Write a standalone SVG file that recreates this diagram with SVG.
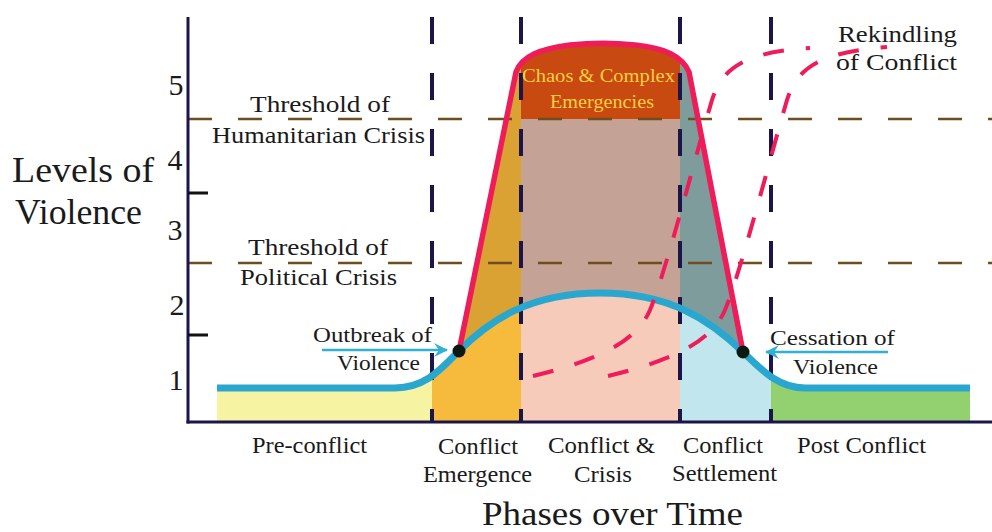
<svg xmlns="http://www.w3.org/2000/svg" width="992" height="532" viewBox="0 0 992 532">
<style>
text{font-family:"Liberation Serif","Times New Roman",serif;fill:#1a1a1a}
.lbl{font-size:24px}
.ph{font-size:23px}
.num{font-size:30px;text-anchor:middle}
.chaos{font-size:19px;fill:#f7cf45}
.vd{stroke:#1b1548;stroke-width:4;stroke-dasharray:27 29;fill:none}
.th{stroke:#6e4e1e;stroke-width:2.5;stroke-dasharray:24 26;fill:none}
.rk{stroke:#ee1d5a;stroke-width:4;stroke-dasharray:21 22;fill:none}
.arr{stroke:#2fb0d4;stroke-width:2.5;fill:none}
</style>
<defs>
<clipPath id="redArea"><path d="M459,351 L516,72 C522,56 540,49 570,45 C590,43 615,43 635,45 C665,48 682,56 689,72 L743,352 L743,422 L459,422 Z"/></clipPath>
<clipPath id="underCurve"><path d="M217,388 L395,388 C425,388 440,370 459,351 C490,320 530,293 600,293 C670,293 710,320 743,352 C762,370 778,388 805,388 L970,388 L970,422 L217,422 Z"/></clipPath>
<marker id="ah" viewBox="0 0 14 14" refX="13" refY="7" markerWidth="14" markerHeight="14" markerUnits="userSpaceOnUse" orient="auto">
<path d="M0,0 L14,7 L0,14 L5,7 Z" fill="#2fb0d4"/>
</marker>
</defs>
<rect width="992" height="532" fill="#ffffff"/>

<g id="fills-above" clip-path="url(#redArea)">
<rect x="432" y="30" width="89" height="392" fill="#d9a232"/>
<rect x="521" y="30" width="159" height="392" fill="#c4a396"/>
<rect x="521" y="30" width="159" height="89" fill="#c94a10"/>
<rect x="680" y="30" width="91" height="392" fill="#7f9c9c"/>
</g>
<g id="fills-below" clip-path="url(#underCurve)">
<rect x="217" y="280" width="215" height="142" fill="#f6f4a2"/>
<rect x="432" y="280" width="89" height="142" fill="#f6bb3c"/>
<rect x="521" y="280" width="159" height="142" fill="#f6cbb9"/>
<rect x="680" y="280" width="91" height="142" fill="#c2e6ee"/>
<rect x="771" y="280" width="199" height="142" fill="#93d070"/>
</g>

<g id="thresholds">
<line class="th" x1="188" y1="119" x2="992" y2="119"/>
<line class="th" x1="188" y1="263" x2="992" y2="263"/>
</g>

<g id="phase-dividers">
<line class="vd" x1="432" y1="17" x2="432" y2="422"/>
<line class="vd" x1="521" y1="17" x2="521" y2="422"/>
<line class="vd" x1="680" y1="17" x2="680" y2="422"/>
<line class="vd" x1="771" y1="17" x2="771" y2="422"/>
</g>

<g id="axes" stroke="#1b1548" stroke-width="3" fill="none">
<line x1="188" y1="17" x2="188" y2="423.5"/>
<line x1="186.5" y1="422" x2="992" y2="422"/>
<line x1="188" y1="193" x2="208" y2="193" stroke="#111"/>
<line x1="188" y1="335" x2="208" y2="335" stroke="#111"/>
</g>

<g id="connectors">
<path id="violence-curve" d="M217,388 L395,388 C425,388 440,370 459,351 C490,320 530,293 600,293 C670,293 710,320 743,352 C762,370 778,388 805,388 L970,388" fill="none" stroke="#2aa7cf" stroke-width="7"/>
<path id="crisis-outline" d="M459,351 L516,72 C522,56 540,49 570,45 C590,43 615,43 635,45 C665,48 682,56 689,72 L743,352" fill="none" stroke="#ee1d5a" stroke-width="5.5" stroke-linejoin="round"/>
<path id="rekindle-1" class="rk" d="M533,376 C590,362 635,345 650,310 C665,275 700,140 712,100 C722,68 745,52 810,48"/>
<path id="rekindle-2" class="rk" d="M608,376 C665,362 710,345 725,310 C740,275 775,140 787,100 C797,68 820,52 887,47"/>
<line class="arr" x1="322" y1="350" x2="447" y2="350" marker-end="url(#ah)"/>
<line class="arr" x1="888" y1="352" x2="766" y2="352" marker-end="url(#ah)"/>
</g>

<g id="outbreak-point"><circle cx="459" cy="351" r="6.5" fill="#0b1a10"/></g>
<g id="cessation-point"><circle cx="743" cy="352" r="6.5" fill="#0b1a10"/></g>

<g id="y-axis-labels">
<text x="12" y="182" font-size="35" textLength="142" lengthAdjust="spacingAndGlyphs">Levels of</text>
<text x="15" y="224" font-size="35" textLength="127" lengthAdjust="spacingAndGlyphs">Violence</text>
<text class="num" x="176" y="95">5</text>
<text class="num" x="175" y="170">4</text>
<text class="num" x="175" y="240">3</text>
<text class="num" x="177" y="315">2</text>
<text class="num" x="176" y="390">1</text>
</g>

<g id="humanitarian-threshold">
<text class="lbl" x="250" y="112" textLength="140" lengthAdjust="spacingAndGlyphs">Threshold of</text>
<text class="lbl" x="212" y="143" textLength="213" lengthAdjust="spacingAndGlyphs">Humanitarian Crisis</text>
</g>
<g id="political-threshold">
<text class="lbl" x="248" y="255" textLength="140" lengthAdjust="spacingAndGlyphs">Threshold of</text>
<text class="lbl" x="240" y="285" textLength="157" lengthAdjust="spacingAndGlyphs">Political Crisis</text>
</g>
<g id="chaos">
<text class="chaos" x="522" y="82" textLength="153" lengthAdjust="spacingAndGlyphs">Chaos &amp; Complex</text>
<text class="chaos" x="550" y="108" textLength="104" lengthAdjust="spacingAndGlyphs">Emergencies</text>
</g>
<g id="rekindling">
<text class="lbl" x="838" y="42" textLength="119" lengthAdjust="spacingAndGlyphs">Rekindling</text>
<text class="lbl" x="836" y="70" textLength="121" lengthAdjust="spacingAndGlyphs">of Conflict</text>
</g>
<g id="outbreak">
<text x="313" y="342" font-size="22" textLength="119" lengthAdjust="spacingAndGlyphs">Outbreak of</text>
<text x="337" y="370" font-size="22" textLength="83" lengthAdjust="spacingAndGlyphs">Violence</text>
</g>
<g id="cessation">
<text x="770" y="345" font-size="22" textLength="125" lengthAdjust="spacingAndGlyphs">Cessation of</text>
<text x="793" y="374" font-size="22" textLength="85" lengthAdjust="spacingAndGlyphs">Violence</text>
</g>

<g id="phase-labels">
<text class="ph" x="252" y="453" textLength="115" lengthAdjust="spacingAndGlyphs">Pre-conflict</text>
<text class="ph" x="438" y="454" textLength="80" lengthAdjust="spacingAndGlyphs">Conflict</text>
<text class="ph" x="423" y="482" textLength="109" lengthAdjust="spacingAndGlyphs">Emergence</text>
<text class="ph" x="548" y="453" textLength="107" lengthAdjust="spacingAndGlyphs">Conflict &amp;</text>
<text class="ph" x="574" y="482" textLength="58" lengthAdjust="spacingAndGlyphs">Crisis</text>
<text class="ph" x="683" y="453" textLength="80" lengthAdjust="spacingAndGlyphs">Conflict</text>
<text class="ph" x="672" y="481" textLength="105" lengthAdjust="spacingAndGlyphs">Settlement</text>
<text class="ph" x="797" y="453" textLength="129" lengthAdjust="spacingAndGlyphs">Post Conflict</text>
<text x="482" y="525" font-size="34" textLength="261" lengthAdjust="spacingAndGlyphs">Phases over Time</text>
</g>
</svg>
